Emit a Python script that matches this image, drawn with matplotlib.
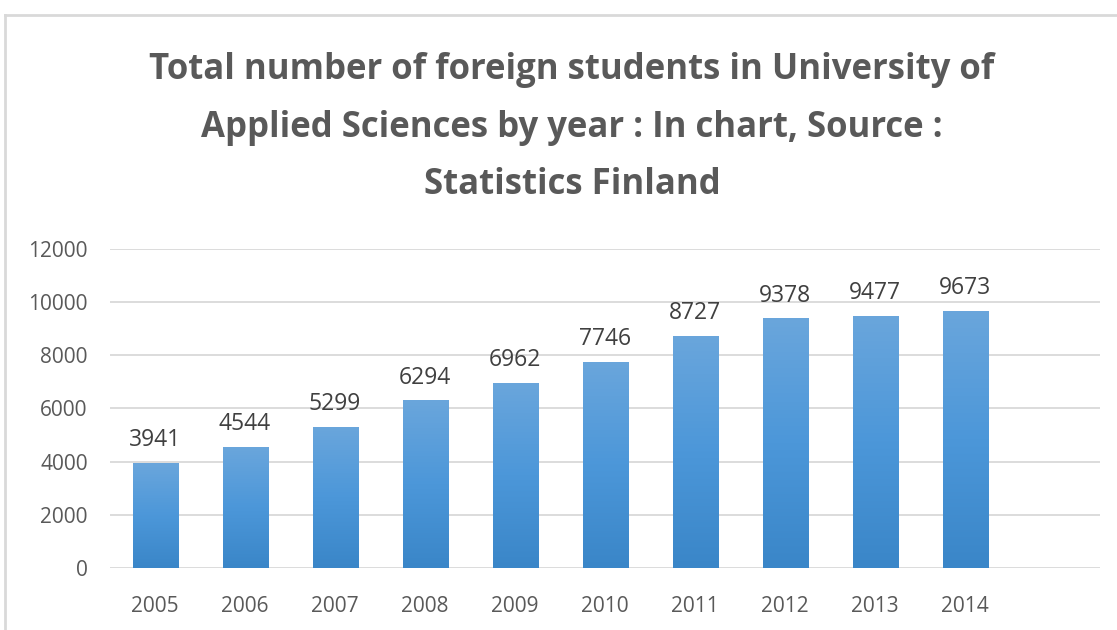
import numpy as np
import matplotlib
matplotlib.use("Agg")
import matplotlib.pyplot as plt
from matplotlib.lines import Line2D

years = ['2005', '2006', '2007', '2008', '2009', '2010', '2011', '2012', '2013', '2014']
students = [3941, 4544, 5299, 6294, 6962, 7746, 8727, 9378, 9477, 9673]
yticks = [0, 2000, 4000, 6000, 8000, 10000, 12000]
title = ("Total number of foreign students in University of\n"
         "Applied Sciences by year : In chart, Source :\n"
         "Statistics Finland")

plt.rcParams['font.family'] = ['Open Sans', 'DejaVu Sans']

fig = plt.figure(figsize=(11.17, 6.3), dpi=100)
ax = fig.add_axes([0.0985, 0.0984, 0.8865, 0.507])

x = np.arange(len(years))
bars = ax.bar(x, students, width=0.5, color='#5299d8', zorder=2)

# vertical gradient on each bar
grad = np.linspace(0, 1, 256).reshape(-1, 1)
cmap = matplotlib.colors.LinearSegmentedColormap.from_list(
    'bar', ['#3a86c8', '#4c97d9', '#6aa6dc'])
for b in bars:
    b.set_facecolor('none')
    im = ax.imshow(grad, cmap=cmap, aspect='auto', origin='lower',
                   extent=[b.get_x(), b.get_x() + b.get_width(), 0, b.get_height()],
                   zorder=2)
    im.set_clip_path(b)

for xi, v in zip(x, students):
    ax.text(xi, v + 400, str(v), ha='center', va='bottom', fontsize=16.5, color='#404040')

ax.set_xlim(-0.5, 10.5)
ax.set_ylim(0, 12000)
ax.set_yticks(yticks)
ax.set_xticks(x)
ax.set_xticklabels(years)
ax.tick_params(axis='both', length=0, labelsize=15, labelcolor='#595959')
ax.tick_params(axis='x', pad=20)
ax.tick_params(axis='y', pad=16)
ax.grid(axis='y', color='#d9d9d9', linewidth=1.3, zorder=0)
ax.set_axisbelow(True)
for s in ax.spines.values():
    s.set_visible(False)

fig.text(0.512, 0.797, title, ha='center', va='center', fontsize=25,
         fontweight='bold', color='#595959', linespacing=1.8)

# chart frame
fig.add_artist(Line2D([5 / 1117, 1], [1 - 15 / 630, 1 - 15 / 630], color='#d9d9d9', lw=2))
fig.add_artist(Line2D([5 / 1117, 5 / 1117], [0, 1 - 15 / 630], color='#d9d9d9', lw=2))

fig.savefig('out.png', dpi=100)
